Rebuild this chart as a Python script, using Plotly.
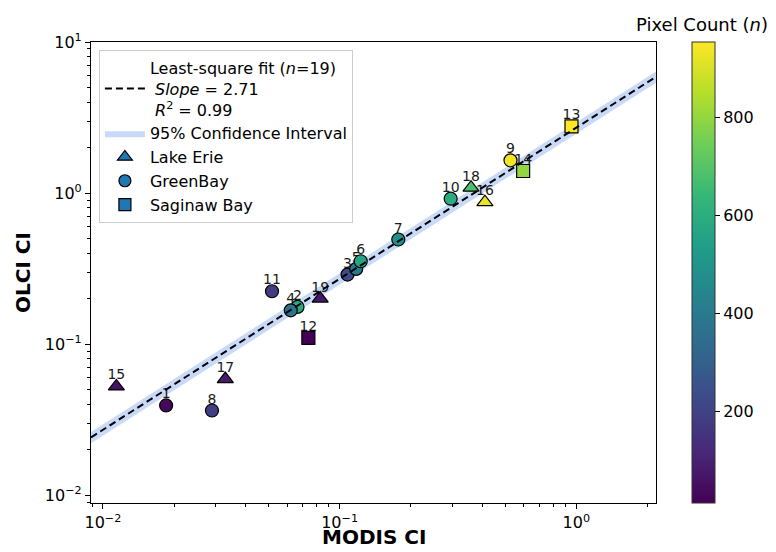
import numpy as np
import plotly.graph_objects as go

# ---------------- data ----------------
point_ids = [1, 2, 3, 4, 5, 6, 7, 8, 9, 10, 11, 12, 13, 14, 15, 16, 17, 18, 19]
modis_ci = [0.0185, 0.0664, 0.108, 0.0622, 0.1175, 0.1228, 0.177, 0.0289, 0.527, 0.2945,
            0.0518, 0.0738, 0.954, 0.596, 0.0114, 0.411, 0.0329, 0.359, 0.0828]
olci_ci = [0.0393, 0.1765, 0.289, 0.1675, 0.315, 0.354, 0.493, 0.0364, 1.648, 0.918,
           0.224, 0.110, 2.76, 1.40, 0.0525, 0.871, 0.0588, 1.086, 0.2003]
pixel_count = [30, 580, 230, 370, 390, 560, 480, 190, 935, 590,
               180, 12, 954, 800, 55, 925, 80, 680, 75]
region = ["GreenBay"] * 11 + ["Saginaw Bay"] * 3 + ["Lake Erie"] * 5

fit_slope = 2.71
fit_r2 = 0.99
ci_frac = 0.085
x_range = [0.00891, 2.17]
y_range = [0.00889, 10.0]
count_range = [12, 954]

regions_order = ["Lake Erie", "GreenBay", "Saginaw Bay"]
region_symbol = {"Lake Erie": "triangle-up", "GreenBay": "circle", "Saginaw Bay": "square"}
region_size = {"Lake Erie": 14, "GreenBay": 13, "Saginaw Bay": 13}

FONT = "DejaVu Sans"

fig = go.Figure()

# confidence band
fit_x = np.logspace(np.log10(x_range[0]), np.log10(x_range[1]), 60)
fit_y = fit_slope * fit_x
fig.add_trace(go.Scatter(x=fit_x, y=fit_y * (1 + ci_frac), mode="lines",
                         line=dict(width=0), showlegend=False, hoverinfo="skip"))
fig.add_trace(go.Scatter(x=fit_x, y=fit_y * (1 - ci_frac), mode="lines",
                         line=dict(width=0), fill="tonexty",
                         fillcolor="rgba(100,149,237,0.35)",
                         name="95% Confidence Interval", legendrank=2,
                         hoverinfo="skip"))

# point labels (drawn beneath markers)
fig.add_trace(go.Scatter(x=modis_ci, y=olci_ci, mode="markers+text",
                         text=[str(i) for i in point_ids], textposition="top center",
                         textfont=dict(family=FONT, size=14, color="#1a1a1a"),
                         marker=dict(size=4, color="rgba(0,0,0,0)"),
                         showlegend=False, hoverinfo="skip"))

# markers by region
for k, reg in enumerate(regions_order):
    idx = [i for i, r in enumerate(region) if r == reg]
    fig.add_trace(go.Scatter(
        x=[modis_ci[i] for i in idx], y=[olci_ci[i] for i in idx], mode="markers",
        marker=dict(symbol=region_symbol[reg], size=region_size[reg],
                    color=[pixel_count[i] for i in idx], coloraxis="coloraxis",
                    line=dict(color="black", width=1.2)),
        showlegend=False))
    fig.add_trace(go.Scatter(
        x=[None], y=[None], mode="markers", name=reg, legendrank=3 + k,
        marker=dict(symbol=region_symbol[reg], size=region_size[reg] - 1,
                    color="#1f77b4", line=dict(color="black", width=1.2))))

# fit line on top
fig.add_trace(go.Scatter(
    x=fit_x, y=fit_y, mode="lines",
    line=dict(color="black", width=2, dash="7px,4px"),
    name=("Least-square fit (<i>n</i>=%d)<br> <i>Slope</i> = %.2f<br> <i>R</i><sup>2</sup> = %.2f"
          % (len(point_ids), fit_slope, fit_r2)),
    legendrank=1, hoverinfo="skip"))

def minor_vals(lo, hi):
    vals = []
    for e in range(-3, 2):
        for m in range(2, 10):
            v = m * 10.0 ** e
            if lo <= v <= hi:
                vals.append(v)
    return vals

axis_common = dict(
    type="log", showgrid=False, zeroline=False, showline=True, linecolor="black",
    linewidth=1.2, mirror=True, ticks="outside", ticklen=5, tickwidth=1.2,
    tickcolor="black", tickfont=dict(family=FONT, size=16, color="black"),
    automargin=False,
)

fig.update_xaxes(
    **axis_common,
    range=[np.log10(x_range[0]), np.log10(x_range[1])],
    tickmode="array", tickvals=[0.01, 0.1, 1],
    ticktext=["10<sup>−2</sup>", "10<sup>−1</sup>", "10<sup>0</sup>"],
    minor=dict(tickmode="array", tickvals=minor_vals(*x_range), ticks="outside",
               ticklen=3, tickwidth=1, tickcolor="black"),
)
fig.update_yaxes(
    **axis_common,
    range=[np.log10(y_range[0]), np.log10(y_range[1])],
    tickmode="array", tickvals=[0.01, 0.1, 1, 10],
    ticktext=["10<sup>−2</sup>", "10<sup>−1</sup>", "10<sup>0</sup>", "10<sup>1</sup>"],
    minor=dict(tickmode="array", tickvals=minor_vals(*y_range), ticks="outside",
               ticklen=3, tickwidth=1, tickcolor="black"),
    title=dict(text="<b>OLCI CI</b>", font=dict(family=FONT, size=20, color="black"),
               standoff=8),
)

fig.update_layout(
    width=776, height=552, autosize=False,
    margin=dict(l=91, r=120, t=42, b=49, pad=0),
    paper_bgcolor="white", plot_bgcolor="white",
    font=dict(family=FONT, size=16, color="black"),
    coloraxis=dict(
        colorscale="Viridis", cmin=count_range[0], cmax=count_range[1],
        colorbar=dict(
            x=1.0637, xanchor="left", xpad=0, ypad=0, y=0.5, yanchor="middle",
            len=1, lenmode="fraction", thickness=23, thicknessmode="pixels",
            outlinewidth=1, outlinecolor="#333333",
            tickmode="array", tickvals=[200, 400, 600, 800],
            ticks="outside", ticklen=5, tickcolor="black",
            tickfont=dict(family=FONT, size=16, color="black"),
        ),
    ),
    legend=dict(
        x=0.014, y=0.983, xanchor="left", yanchor="top",
        bgcolor="white", bordercolor="#cccccc", borderwidth=1,
        font=dict(family=FONT, size=16, color="black"),
        traceorder="normal", itemwidth=40,
    ),
    annotations=[
        dict(text="Pixel Count (<i>n</i>)", xref="paper", yref="paper",
             x=1.081, y=1.037, xanchor="center", yanchor="middle", showarrow=False,
             font=dict(family=FONT, size=18, color="black")),
        dict(text="<b>MODIS CI</b>", xref="paper", yref="paper",
             x=0.5, y=-0.0738, xanchor="center", yanchor="middle", showarrow=False,
             font=dict(family=FONT, size=20, color="black")),
    ],
)

fig.write_html("out.html")
